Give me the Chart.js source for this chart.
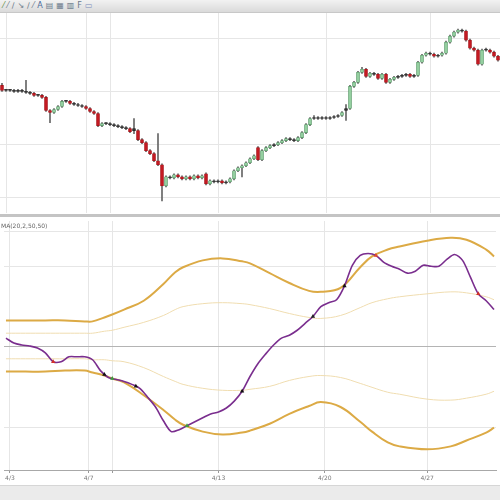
<!DOCTYPE html>
<html>
<head>
<meta charset="utf-8">
<script src="https://cdn.jsdelivr.net/npm/chart.js@4.4.1/dist/chart.umd.min.js"></script>
<style>
html, body { margin: 0; padding: 0; background: #fff; }
#wrap { position: relative; width: 500px; height: 500px; overflow: hidden; font-family: "DejaVu Sans", sans-serif; }
#toolbar { position: absolute; left: 0; top: 0; width: 500px; height: 12px; background: linear-gradient(#f2f2f2, #dadada); border-bottom: 1px solid #c8c8c8; font-size: 8px; line-height: 12px; color: #6a7a8a; white-space: nowrap; }
#toolbar span { margin-left: 3px; }
#top { position: absolute; left: 0; top: 13px; }
#sep { position: absolute; left: 0; top: 214px; width: 500px; height: 3px; background: #c4c4c4; }
#bottom { position: absolute; left: 0; top: 217px; }
#ind { position: absolute; left: 1px; top: 222px; font-size: 6px; color: #666; }
#status { position: absolute; left: 0; top: 485px; width: 500px; height: 15px; background: #ebebeb; border-top: 1px solid #d6d6d6; }
</style>
</head>
<body>
<div id="wrap">
  <div id="toolbar"><span style="color:#5a8a3a">⁄</span><span>⁄</span><span>∕</span><span>↘</span><span>∕</span><span>⁄</span><span style="color:#4a6a9a">A</span><span>▤</span><span>▦</span><span>▥</span><span>F</span><span style="color:#7a8aba">▭</span></div>
  <canvas id="top" width="500" height="200"></canvas>
  <div id="sep"></div>
  <canvas id="bottom" width="500" height="268"></canvas>
  <div id="ind">MA(20,2,50,50)</div>
  <div id="status"></div>
</div>
<script>
// candles (price units, bar index 0..124)
const opens = [127,122,122,122,121,122,121,120,119,117,
  117,115,102,100,103,106,111,111,109,108,
  107,106,104,101,99,87,89,89,88,87,
  86,85,84,84,82,73,70,62,59,52,
  48,27,36,35,38,36,34,36,34,37,
  35,39,29,32,31,32,30,31,34,42,
  45,47,50,54,65,53,62,65,67,68,
  70,72,74,73,72,75,80,88,94,95,
  94,95,94,95,96,97,102,104,126,130,
  140,143,136,139,138,134,138,130,133,135,
  136,137,138,136,137,150,157,159,158,156,
  157,159,170,176,180,182,181,172,164,162,
  148,162,162,160,156];
const closes = [122,122,122,121,122,121,120,119,117,117,
  115,102,100,103,106,111,111,109,108,107,
  106,104,101,99,87,89,89,88,87,86,
  85,84,81,82,73,70,62,59,52,48,
  27,36,35,38,36,34,36,34,37,35,
  37,29,32,31,32,30,31,34,42,45,
  47,50,54,57,53,62,65,67,68,70,
  72,74,73,72,75,80,88,94,95,94,
  95,94,95,96,97,100,104,126,130,140,
  143,136,139,138,134,138,130,133,135,136,
  137,138,136,137,150,157,159,158,156,157,
  159,170,176,180,182,181,172,164,162,148,
  162,162,160,156,152];
const highs = [129,123,123,123,123,123,132,121,120,118,
  118,116,103,104,107,112,112,112,110,109,
  108,107,105,102,100,90,90,90,89,88,
  87,86,85,94,83,74,71,63,60,79,
  49,37,37,39,39,37,37,37,38,38,
  38,40,33,33,33,33,32,35,43,46,
  48,51,55,58,66,63,66,68,69,71,
  73,75,75,74,76,81,89,95,97,96,
  96,96,96,97,98,101,108,127,131,141,
  145,144,140,140,139,139,139,134,136,137,
  138,139,139,138,151,158,160,160,159,158,
  160,171,177,181,183,183,182,173,165,163,
  163,164,163,161,157];
const lows = [121,121,121,120,120,120,119,118,116,116,
  114,101,90,99,102,105,110,108,107,106,
  105,103,100,98,86,86,88,87,86,85,
  84,83,80,79,72,69,61,58,51,47,
  12,26,34,34,35,33,33,33,33,34,
  34,28,28,30,30,29,29,30,33,41,
  36,46,49,53,52,52,61,64,66,67,
  69,71,72,71,71,74,79,87,93,93,
  93,93,93,94,95,96,92,103,125,129,
  139,135,135,137,133,133,129,129,132,134,
  135,136,135,135,136,149,156,157,155,155,
  156,158,169,175,179,180,171,163,161,147,
  147,161,159,155,151];
const blackCandles = [33, 86];

// oscillator panel
const bandIdx = [0,5,10,15,20,22,25,27,30,35,40,43,45,50,55,60,62,67,72,77,80,85,90,93,97,100,107,113,117,122,124];
const upperOuter = [27,27,27,27,26,26,30,33,38,47,64,76,81,88,90,87,85,75,65,57,56,60,81,92,99,102,108,111,109,99,92];
const upperInner = [14,14,14,14,14,14,16,17,20,25,32,38,41,44,45,44,43,39,34,30,29,32,40,45,49,51,54,56,55,51,48];
const lowerInner = [-12,-12,-12,-12,-12,-13,-13,-14,-15,-21,-30,-35,-38,-42,-44,-44,-43,-40,-34,-30,-29,-31,-37,-41,-46,-48,-53,-54,-52,-48,-45];
const lowerOuter = [-25,-25,-25,-24,-24,-26,-29,-32,-36,-49,-64,-74,-79,-86,-89,-87,-85,-78,-68,-60,-56,-61,-76,-86,-97,-101,-104,-101,-95,-87,-82];
const oscValues = [9,4,2,1,-1,-6,-15,-15,-10,-10,-10,-13,-24,-31,-33,-35,-38,-42,-51,-61,
  -75,-86,-84,-80,-76,-72,-68,-66,-62,-55,-45,-30,-17,-7,2,9,12,17,24,31,
  41,45,48,62,83,93,95,93,86,82,79,75,77,83,82,82,89,94,88,71,54,47,38];
const oscIdx = oscValues.map((v, k) => k * 2);
const signalIdx = [12,25,27,33,46,60,78,86,94,120];
const signalVals = [-15,-28,-32,-40,-80,-45,31,62,93,54];
const signalColors = ['#d0302a','#111','#3f9a3f','#111','#3f9a3f','#111','#222','#111','#e4492a','#d0302a'];

const tickIdx = [1, 21, 27, 54, 81, 107];
const tickLabels = {1: '4/3', 21: '4/7', 54: '4/13', 81: '4/20', 107: '4/27'};

const pts = (xs, ys) => xs.map((x, k) => ({x: x, y: ys[k]}));

const bodies = opens.map((o, i) => ({x: i, y: [o, closes[i]]}));
const wicks = lows.map((l, i) => ({x: i, y: [l, highs[i]]}));
const bodyColors = opens.map((o, i) => {
    const c = closes[i];
    if (blackCandles.includes(i) || Math.abs(c - o) <= 1) return '#333';
    return c > o ? '#93cf9f' : '#c41a22';
});
const bodyBorders = opens.map((o, i) => {
    const c = closes[i];
    if (blackCandles.includes(i) || Math.abs(c - o) <= 1) return '#222';
    return c > o ? '#4f8f5e' : '#9e1016';
});

const gridGrey = '#e6e6e6';

new Chart(document.getElementById('top'), {
    type: 'bar',
    data: {
        datasets: [
            {data: wicks, backgroundColor: '#666', barThickness: 1, grouped: false, order: 2},
            {data: bodies, backgroundColor: bodyColors, borderColor: bodyBorders, borderWidth: 0.6,
             borderSkipped: false, barThickness: 3, minBarLength: 1, grouped: false, order: 1}
        ]
    },
    options: {
        responsive: false,
        animation: false,
        layout: {padding: 0},
        plugins: {legend: {display: false}, tooltip: {enabled: false}},
        scales: {
            x: {
                type: 'linear', min: -0.5, max: 124.5, offset: false,
                afterBuildTicks: s => { s.ticks = tickIdx.map(v => ({value: v})); },
                afterFit: s => { s.height = 0; },
                ticks: {display: false},
                grid: {color: gridGrey, drawTicks: false, offset: false},
                border: {display: false}
            },
            y: {
                min: 0, max: 199,
                afterBuildTicks: s => { s.ticks = [15, 68, 121, 174].map(v => ({value: v})); },
                afterFit: s => { s.width = 0; },
                ticks: {display: false},
                grid: {color: gridGrey, drawTicks: false},
                border: {display: false}
            }
        }
    }
});

new Chart(document.getElementById('bottom'), {
    type: 'line',
    data: {
        datasets: [
            {data: pts(signalIdx, signalVals), showLine: false, pointStyle: 'triangle', pointRadius: 2.5,
             pointBackgroundColor: signalColors, pointBorderColor: signalColors, pointBorderWidth: 0, order: 0},
            {data: pts(oscIdx, oscValues), borderColor: '#7a2e8e', borderWidth: 1.6, tension: 0.3, pointRadius: 0, order: 1},
            {data: pts(bandIdx, upperOuter), borderColor: '#dcaa45', borderWidth: 2, tension: 0.4, pointRadius: 0, order: 2},
            {data: pts(bandIdx, lowerOuter), borderColor: '#dcaa45', borderWidth: 2, tension: 0.4, pointRadius: 0, order: 2},
            {data: pts(bandIdx, upperInner), borderColor: '#f0ddb0', borderWidth: 1, tension: 0.4, pointRadius: 0, order: 3},
            {data: pts(bandIdx, lowerInner), borderColor: '#f0ddb0', borderWidth: 1, tension: 0.4, pointRadius: 0, order: 3}
        ]
    },
    options: {
        responsive: false,
        animation: false,
        layout: {padding: 0},
        plugins: {legend: {display: false}, tooltip: {enabled: false}},
        scales: {
            x: {
                type: 'linear', min: -0.5, max: 124.5,
                afterBuildTicks: s => { s.ticks = tickIdx.map(v => ({value: v})); },
                afterFit: s => { s.height = 15; },
                ticks: {
                    autoSkip: false, maxRotation: 0, padding: 2,
                    font: {family: 'DejaVu Sans', size: 6}, color: '#777',
                    callback: v => tickLabels[v] || ''
                },
                grid: {color: gridGrey, tickLength: 3, tickColor: '#999'},
                border: {color: '#a8a8a8'}
            },
            y: {
                min: -125, max: 128,
                afterBuildTicks: s => { s.ticks = [-82, 0, 82, 117].map(v => ({value: v})); },
                afterFit: s => { s.width = 0; },
                ticks: {display: false},
                grid: {
                    drawTicks: false,
                    color: c => c.tick && c.tick.value === 0 ? '#b4b4b4' : gridGrey
                },
                border: {display: false}
            }
        }
    }
});
</script>
</body>
</html>
